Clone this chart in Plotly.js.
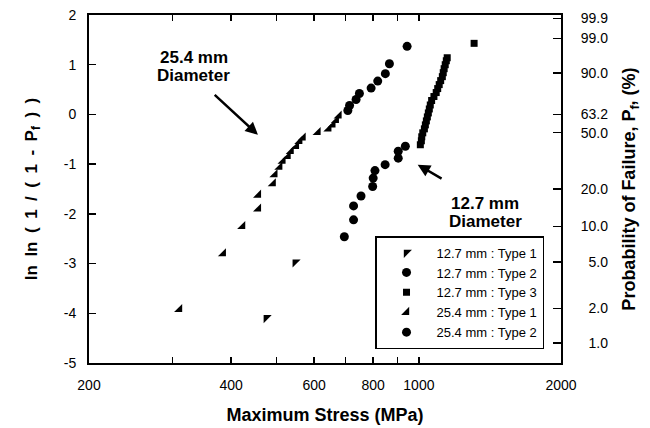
<!DOCTYPE html>
<html><head><meta charset="utf-8">
<script src="https://cdn.plot.ly/plotly-3.0.1.min.js"></script>
<style>html,body{margin:0;padding:0;background:#fff}#chart{width:650px;height:428px}</style>
</head><body><div id="chart"></div>
<script>
// ---- data (Maximum stress in MPa, ln ln(1/(1-Pf))) ----
const stress127Type1 = [475, 547];
const lnln127Type1 = [-4.09, -2.97];

const stress127Type2 = [695, 727, 727, 754, 798, 800, 807, 848, 904, 904, 936];
const lnln127Type2 = [-2.46, -2.12, -1.84, -1.64, -1.45, -1.28, -1.13, -1.01, -0.88, -0.74, -0.64];

const stress127Type3 = [1007, 1012, 1014, 1019, 1027, 1032, 1037, 1042, 1047, 1052, 1057, 1064, 1076, 1088, 1096, 1104, 1112, 1121, 1126, 1131, 1137, 1143, 1148, 1309];
const lnln127Type3 = [-0.61, -0.53, -0.45, -0.37, -0.29, -0.21, -0.13, -0.05, 0.03, 0.11, 0.19, 0.28, 0.36, 0.44, 0.52, 0.60, 0.68, 0.76, 0.84, 0.92, 1.00, 1.08, 1.14, 1.43];

const stress254Type1 = [311, 385, 423, 457, 457, 491, 495, 507, 515, 528, 536, 550, 559, 568, 611, 644, 657, 668, 677];
const lnln254Type1 = [-3.92, -2.80, -2.25, -1.90, -1.62, -1.39, -1.21, -1.06, -0.94, -0.84, -0.74, -0.64, -0.54, -0.47, -0.36, -0.29, -0.21, -0.12, -0.03];

const stress254Type2 = [707, 713, 736, 748, 792, 818, 849, 866, 944];
const lnln254Type2 = [0.08, 0.18, 0.30, 0.42, 0.53, 0.67, 0.82, 1.02, 1.37];

const seriesNames = ['12.7 mm : Type 1', '12.7 mm : Type 2', '12.7 mm : Type 3', '25.4 mm : Type 1', '25.4 mm : Type 2'];

// ---- tick labels ----
const stressTickVals = [200, 400, 600, 800, 1000, 2000];
const stressTickText = ['200', '400', '600', '800', '1000', '2000'];
const stressMinorTicks = [300, 500, 700, 900];
const lnlnTickVals = [-5, -4, -3, -2, -1, 0, 1, 2];
const lnlnTickText = ['-5', '-4', '-3', '-2', '-1', '0', '1', '2'];
const probTickPercent = [99.9, 99.0, 90.0, 63.2, 50.0, 20.0, 10.0, 5.0, 2.0, 1.0];
const probTickText = ['99.9', '99.0', '90.0', '63.2', '50.0', '20.0', '10.0', '5.0', '2.0', '1.0'];

// Weibull transform of probability tick positions
const probTickY = probTickPercent.map(p => Math.log(-Math.log(1 - p / 100)));
const probTickLabels = probTickText.map(t => (t.length < 4 ? '\u2007' : '') + t);

const FONT = 'Liberation Sans, Arial, Helvetica, sans-serif';
const SP = '\u2002';

function series(x, y, name, symbol, size, yaxis) {
  return {
    type: 'scatter', mode: 'markers', x: x, y: y, name: name, yaxis: yaxis || 'y',
    marker: {symbol: symbol, size: size, color: '#000', line: {width: 0}},
    cliponaxis: false
  };
}

const traces = [
  series(stress127Type1, lnln127Type1, seriesNames[0], 'triangle-nw', 9),
  series(stress127Type2, lnln127Type2, seriesNames[1], 'circle', 9),
  series(stress127Type3, lnln127Type3, seriesNames[2], 'square', 7),
  series(stress254Type1, lnln254Type1, seriesNames[3], 'triangle-se', 9),
  series(stress254Type2, lnln254Type2, seriesNames[4], 'circle', 9, 'y2')
];

const axisCommon = {
  showgrid: false, zeroline: false, showline: true, linecolor: '#000', linewidth: 2,
  ticks: 'inside', tickcolor: '#000', tickwidth: 1.5, tickfont: {size: 14, color: '#000'}
};

const leftTitle = ['ln', 'ln', '(', '1', '/', '(', '1', '-', 'P<sub>f</sub>', ')', ')'].join(SP);

const layout = {
  width: 650, height: 428,
  margin: {l: 89, r: 89, t: 15, b: 65, pad: 0},
  paper_bgcolor: '#fff', plot_bgcolor: '#fff',
  font: {family: FONT, size: 14, color: '#000'},
  showlegend: true,
  legend: {
    x: 0.964, xanchor: 'right', y: 0.04, yanchor: 'bottom',
    bordercolor: '#000', borderwidth: 1.5, bgcolor: '#fff',
    font: {size: 13, color: '#000'}, tracegroupgap: 0, itemwidth: 50
  },
  xaxis: Object.assign({}, axisCommon, {
    type: 'log', range: [Math.log10(200), Math.log10(2000)],
    tickmode: 'array', tickvals: stressTickVals, ticktext: stressTickText,
    ticklen: 6, mirror: 'allticks', ticklabelstandoff: 8,
    minor: {tickmode: 'array', tickvals: stressMinorTicks, ticks: 'inside', ticklen: 5, tickwidth: 1.2, tickcolor: '#000', showgrid: false},
    title: {text: '<b>Maximum Stress (MPa)</b>', font: {size: 18}, standoff: 17}
  }),
  yaxis: Object.assign({}, axisCommon, {
    range: [-5, 2], tickmode: 'array', tickvals: lnlnTickVals, ticktext: lnlnTickText,
    ticklen: 7, ticklabelstandoff: 8,
    title: {text: '<b>' + leftTitle + '</b>', font: {size: 17}, standoff: 22}
  }),
  yaxis2: Object.assign({}, axisCommon, {
    overlaying: 'y', side: 'right', anchor: 'x',
    range: [-5, 2], tickmode: 'array', tickvals: probTickY, ticktext: probTickLabels,
    ticklen: 8, ticklabelstandoff: 15,
    title: {text: '<b>Probability of Failure, P<sub>f</sub>, (%)</b>', font: {size: 18}, standoff: 15}
  }),
  annotations: [
    {xref: 'paper', yref: 'paper', x: 0.2225, y: 0.878, xanchor: 'center', yanchor: 'middle',
     text: '<b>25.4 mm</b>', showarrow: false, font: {size: 17}},
    {xref: 'x', yref: 'y', x: Math.log10(456), y: -0.41, ax: -64, ay: -59,
     text: '<b>Diameter</b>', font: {size: 17}, showarrow: true, startstandoff: 12,
     arrowhead: 2, arrowsize: 1, arrowwidth: 2.5, arrowcolor: '#000'},
    {xref: 'x', yref: 'y', x: Math.log10(994), y: -1.01, ax: 67, ay: 39,
     text: '<b>12.7 mm</b>', font: {size: 17}, showarrow: true, startstandoff: 28,
     arrowhead: 2, arrowsize: 1, arrowwidth: 2.5, arrowcolor: '#000'},
    {xref: 'paper', yref: 'paper', x: 0.839, y: 0.406, xanchor: 'center', yanchor: 'middle',
     text: '<b>Diameter</b>', showarrow: false, font: {size: 17}}
  ]
};

Plotly.newPlot('chart', traces, layout, {staticPlot: true, displayModeBar: false});
</script>
</body></html>
